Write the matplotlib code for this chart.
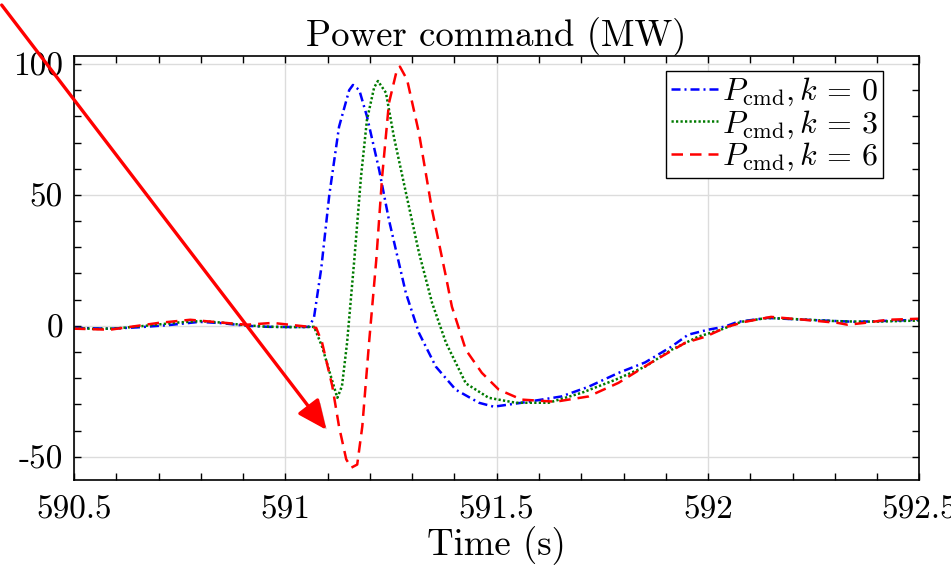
import matplotlib
matplotlib.use("Agg")
import matplotlib.pyplot as plt
from matplotlib.patches import FancyArrowPatch
from matplotlib.ticker import MultipleLocator
import matplotlib.patheffects as pe

plt.rcParams['font.family'] = ['cmr10', 'Liberation Serif', 'DejaVu Serif']
plt.rcParams['mathtext.fontset'] = 'cm'
plt.rcParams['axes.unicode_minus'] = False

# Power command traces (time in s, power in MW)
t_k0 = [590.50, 590.585, 590.65, 590.72, 590.797, 590.85, 590.908, 590.96, 591.033, 591.057,
        591.068, 591.085, 591.104, 591.127, 591.151, 591.160, 591.175, 591.193, 591.222, 591.245,
        591.285, 591.316, 591.356, 591.403, 591.458, 591.493, 591.559, 591.653, 591.717, 591.788,
        591.851, 591.913, 591.953, 592.000, 592.040, 592.070, 592.140, 592.230, 592.350, 592.500]
p_k0 = [-0.8, -1.1, -0.6, 0.2, 1.5, 1.0, 0.0, -0.4, -0.5, -0.4,
        3.4, 22, 50, 76, 90, 92, 90, 80, 59.5, 40.5,
        12.6, -2.7, -15.6, -24.4, -29.4, -30.9, -29.4, -27, -23.3, -18,
        -14, -8, -3.4, -1.5, -0.3, 1.5, 3.0, 2.3, 1.5, 2.3]

t_k3 = [590.50, 590.55, 590.60, 590.65, 590.70, 590.75, 590.80, 590.85, 590.90, 590.95,
        591.00, 591.04, 591.068, 591.087, 591.108, 591.123, 591.134, 591.146, 591.163, 591.179,
        591.193, 591.210, 591.219, 591.238, 591.257, 591.285, 591.316, 591.347, 591.380, 591.427,
        591.481, 591.545, 591.623, 591.701, 591.781, 591.851, 591.913, 591.976, 592.030, 592.078,
        592.140, 592.20, 592.25, 592.30, 592.35, 592.40, 592.45, 592.50]
p_k3 = [-0.8, -1.2, -1.0, -0.3, 0.5, 1.3, 1.8, 1.2, 0.3, -0.3,
        -0.5, -0.5, -0.4, -8, -19.5, -27.5, -23, -6.5, 25, 57,
        78.6, 91, 93.5, 89, 72, 51, 28, 8.8, -6.5, -22,
        -27.5, -29.4, -29.4, -25.6, -20.6, -15.6, -9.2, -4.2, -1.5, 1.5,
        3.0, 2.6, 2.2, 1.8, 1.6, 1.6, 1.8, 2.0]

t_k6 = [590.50, 590.585, 590.70, 590.775, 590.83, 590.908, 590.97, 591.033, 591.057, 591.073,
        591.087, 591.111, 591.127, 591.144, 591.156, 591.170, 591.182, 591.198, 591.215, 591.229,
        591.245, 591.262, 591.271, 591.288, 591.316, 591.347, 591.380, 591.394, 591.427, 591.465,
        591.505, 591.559, 591.639, 591.717, 591.788, 591.866, 591.946, 591.993, 592.047, 592.087,
        592.149, 592.228, 592.307, 592.330, 592.370, 592.425, 592.500]
p_k6 = [-1.1, -1.5, 1.1, 2.3, 1.5, 0.4, 1.1, 0.0, -0.4, -0.8,
        -6.5, -23, -38.5, -51, -54.2, -53, -38.5, -6.5, 25, 57,
        85, 96.5, 99, 94, 73.7, 44.3, 18.7, 7.3, -9.2, -18,
        -24.4, -28.2, -29, -27, -21.8, -14, -6.5, -4.2, -0.3, 1.5,
        3.4, 2.3, 1.1, 0.4, 1.1, 2.3, 2.7]

x_ticks = [590.5, 591, 591.5, 592, 592.5]
x_ticklabels = ['590.5', '591', '591.5', '592', '592.5']
y_ticks = [-50, 0, 50, 100]
y_ticklabels = ['-50', '0', '50', '100']
labels = [r'$P_{\mathrm{cmd}}, k\,=\,0$', r'$P_{\mathrm{cmd}}, k\,=\,3$', r'$P_{\mathrm{cmd}}, k\,=\,6$']

fig = plt.figure(figsize=(9.51, 5.67), dpi=100)
ax = fig.add_axes([0.0778, 0.153, 0.889, 0.748])

ax.plot(t_k0, p_k0, color='#0000ff', lw=1.8, dashes=(3.6, 1.6, 0.8, 1.6), label=labels[0])
ax.plot(t_k3, p_k3, color='#007a00', lw=1.8, dashes=(0.9, 0.9), label=labels[1])
ax.plot(t_k6, p_k6, color='#ff0000', lw=1.8, dashes=(4.6, 2.8), label=labels[2])

ax.set_xlim(590.5, 592.5)
ax.set_ylim(-59, 103)
ax.xaxis.set_minor_locator(MultipleLocator(0.1))
ax.yaxis.set_minor_locator(MultipleLocator(10))
ax.set_xticks(x_ticks)
ax.set_xticklabels(x_ticklabels)
ax.set_yticks(y_ticks)
ax.set_yticklabels(y_ticklabels)
ax.tick_params(which='both', direction='in', top=True, right=True, length=5, width=1,
               labelsize=24)
ax.tick_params(axis='x', pad=11)
ax.tick_params(axis='y', pad=8)
ax.grid(True, which='major', color='#dcdcdc', lw=1)
for s in ax.spines.values():
    s.set_linewidth(1.2)

ax.set_title('Power command (MW)', fontsize=26.5, pad=3)
ax.set_xlabel('Time (s)', fontsize=26.5, labelpad=1)

leg = ax.legend(loc='upper right', bbox_to_anchor=(0.957, 0.965), borderaxespad=0,
                fontsize=23, handlelength=1.5, handletextpad=0.1, labelspacing=0.0,
                borderpad=0.15, fancybox=False, framealpha=1)
leg.get_frame().set_edgecolor('black')
leg.get_frame().set_linewidth(1.0)

arrow = FancyArrowPatch((0.0, 0.995), (0.345, 0.238), transform=fig.transFigure,
                        arrowstyle='-|>,head_length=18,head_width=8', color='red', lw=2.4,
                        mutation_scale=1)
arrow.set_path_effects([pe.SimplePatchShadow(offset=(2, -2), alpha=0.3), pe.Normal()])
fig.add_artist(arrow)

fig.savefig('out.png', dpi=100)
